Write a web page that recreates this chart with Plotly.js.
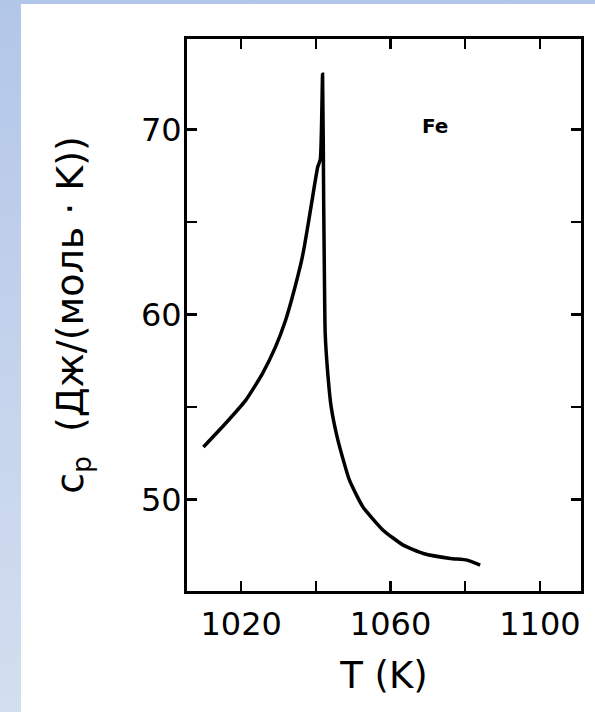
<!DOCTYPE html>
<html>
<head>
<meta charset="utf-8">
<script src="https://cdn.plot.ly/plotly-3.0.1.min.js"></script>
<style>
  html, body { margin: 0; padding: 0; width: 595px; height: 712px; overflow: hidden;
    background: linear-gradient(to bottom, #b2c6e8 0%, #c4d3ec 50%, #d3deef 100%); }
  #chart { position: absolute; left: 21px; top: 4px; width: 574px; height: 708px; background: #ffffff; }
</style>
</head>
<body>
<div id="chart"></div>
<script>
// Temperature T (K) and heat capacity c_p (J/(mol K)) of Fe near the Curie point
const temperatureK = [1009.9, 1015.8, 1021.2, 1025.7, 1029.2, 1031.9, 1034.2, 1036.0, 1036.9, 1038.7, 1040.5, 1041.2, 1041.8,
                      1042.1, 1042.3, 1042.5, 1043.2, 1044.1, 1045.9, 1049.0, 1052.6, 1058.0, 1063.4, 1068.8, 1076.0, 1080.5, 1084.0];
const heatCapacity = [52.84, 54.11, 55.36, 56.81, 58.25, 59.69, 61.31, 62.76, 63.65, 65.82, 67.98, 68.4, 73.0,
                      66.0, 62.0, 59.0, 56.81, 55.01, 53.21, 51.04, 49.6, 48.34, 47.53, 47.08, 46.81, 46.72, 46.45];

const xTickVals = [1020, 1060, 1100];
const xTickText = ['1020', '1060', '1100'];
const yTickVals = [50, 60, 70];
const yTickText = ['50', '60', '70'];

const elementLabel = 'Fe';
const xTitle = 'T (K)';
const yTitle = 'c<sub>p</sub>  (Дж/(моль · K))';

const trace = {
  x: temperatureK,
  y: heatCapacity,
  mode: 'lines',
  type: 'scatter',
  line: { color: '#000000', width: 3.5, shape: 'spline', smoothing: 0.5 },
  hoverinfo: 'skip'
};

const axisCommon = {
  showline: true,
  linecolor: '#000000',
  linewidth: 3,
  mirror: 'ticks',
  ticks: 'inside',
  ticklen: 10,
  tickwidth: 2.5,
  tickcolor: '#000000',
  showgrid: false,
  zeroline: false,
  tickfont: { family: 'DejaVu Sans', size: 32, color: '#000000' }
};

const layout = {
  width: 574,
  height: 708,
  paper_bgcolor: '#ffffff',
  plot_bgcolor: '#ffffff',
  showlegend: false,
  margin: { l: 166, r: 14, t: 34.5, b: 121, pad: 0 },
  xaxis: Object.assign({}, axisCommon, {
    range: [1005.5, 1111],
    tickmode: 'array',
    tickvals: xTickVals,
    ticktext: xTickText,
    ticklabelstandoff: 3,
    minor: { tickmode: 'linear', tick0: 1020, dtick: 20, ticks: 'inside', ticklen: 10, tickwidth: 2.5, tickcolor: '#000000', showgrid: false },
    title: { text: xTitle, font: { family: 'DejaVu Sans', size: 37, color: '#000000' }, standoff: 20 }
  }),
  yaxis: Object.assign({}, axisCommon, {
    range: [45.05, 74.9],
    tickmode: 'array',
    tickvals: yTickVals,
    ticktext: yTickText,
    ticklabelstandoff: -4,
    minor: { tickmode: 'linear', tick0: 50, dtick: 5, ticks: 'inside', ticklen: 10, tickwidth: 2.5, tickcolor: '#000000', showgrid: false },
    title: { text: yTitle, font: { family: 'DejaVu Sans', size: 38, color: '#000000' }, standoff: 46 }
  }),
  annotations: [{
    x: 1071.8, y: 70.2, xref: 'x', yref: 'y',
    text: '<b>' + elementLabel + '</b>', showarrow: false,
    font: { family: 'DejaVu Sans', size: 20, color: '#000000' }
  }]
};

Plotly.newPlot('chart', [trace], layout, { displayModeBar: false, staticPlot: true });
</script>
</body>
</html>
